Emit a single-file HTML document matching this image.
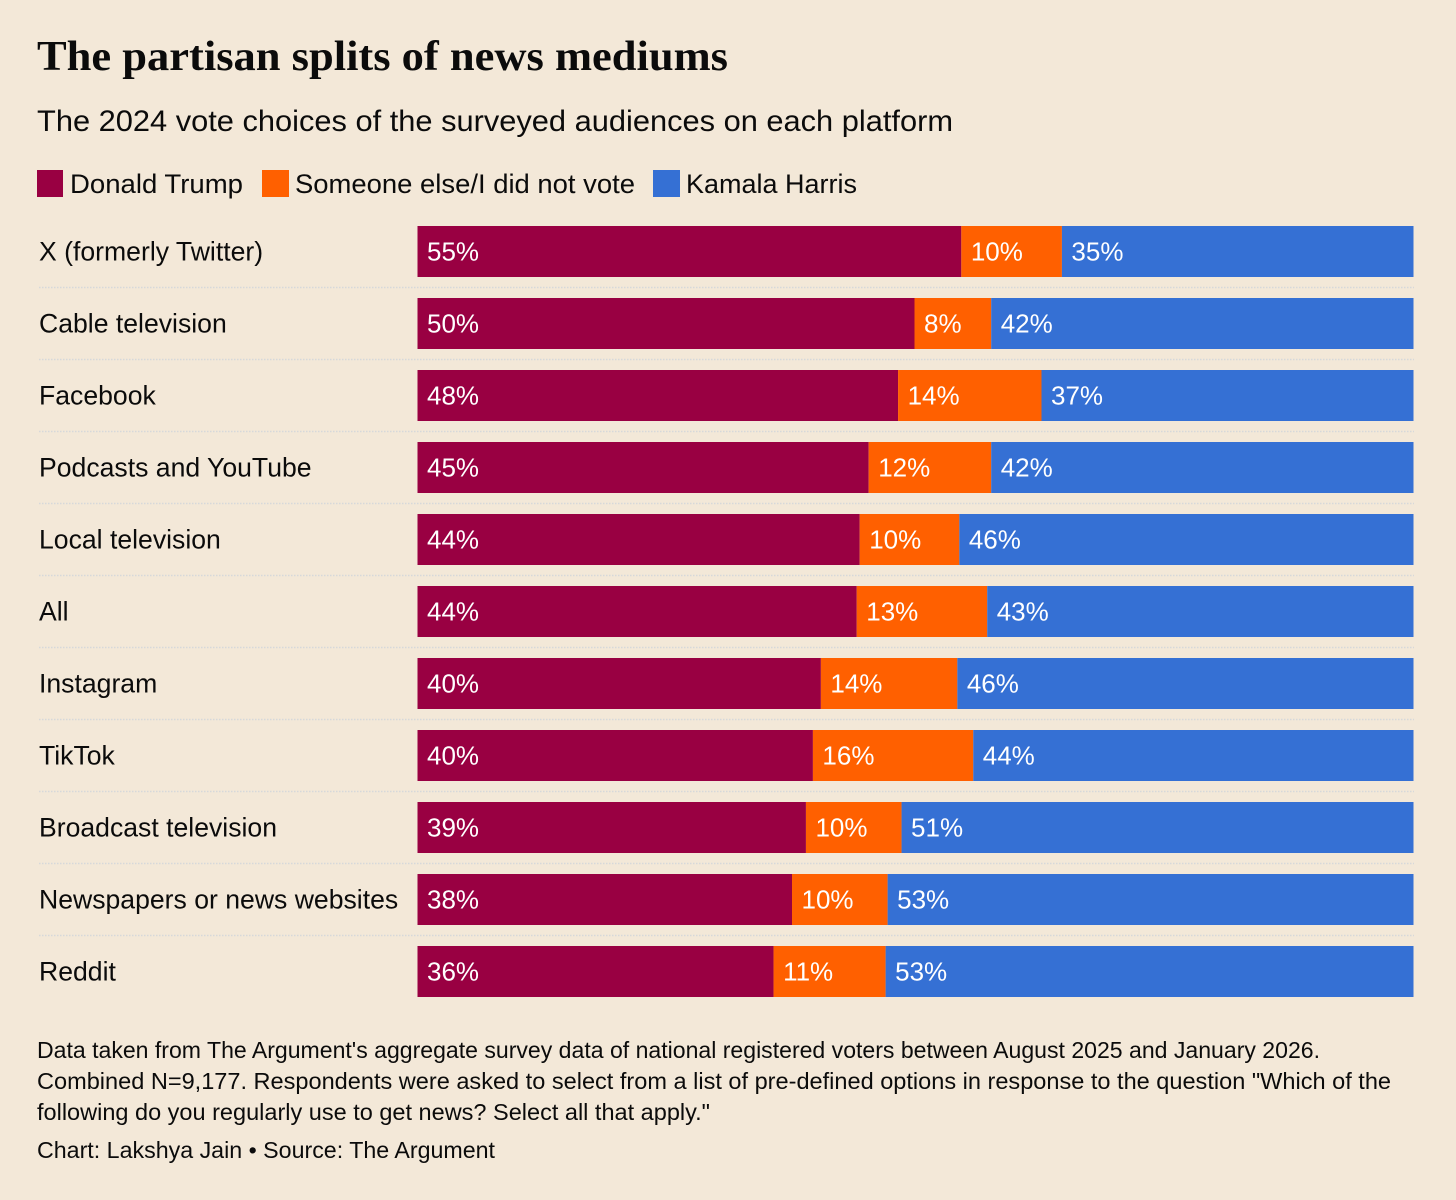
<!DOCTYPE html>
<html lang="en">
<head>
<meta charset="utf-8">
<title>The partisan splits of news mediums</title>
<style>
html,body{margin:0;padding:0;background:#f3e8d8;}
svg{display:block;}
text{font-family:"Liberation Sans",sans-serif;fill:#0b0b0b;}
.title{font-family:"Liberation Serif",serif;font-weight:bold;font-size:42px;}
.sub{font-size:30px;}
.leg{font-size:27px;}
.note{font-size:23px;}
.cat{font-size:26.6px;}
.val{font-size:26px;fill:#fff;}
</style>
</head>
<body>
<svg id="chart" width="1456" height="1200" viewBox="0 0 1456 1200" xmlns="http://www.w3.org/2000/svg">
<rect x="0" y="0" width="1456" height="1200" fill="#f3e8d8"/>
<text class="title" x="37" y="70" textLength="691" lengthAdjust="spacingAndGlyphs">The partisan splits of news mediums</text>
<text class="sub" x="37" y="131" textLength="916" lengthAdjust="spacingAndGlyphs">The 2024 vote choices of the surveyed audiences on each platform</text>
<g>
<rect x="37" y="170" width="26" height="27" fill="#990042"/>
<text class="leg" x="70" y="193" textLength="173" lengthAdjust="spacingAndGlyphs">Donald Trump</text>
<rect x="262" y="170" width="27" height="27" fill="#ff6000"/>
<text class="leg" x="295" y="193" textLength="340" lengthAdjust="spacingAndGlyphs">Someone else/I did not vote</text>
<rect x="653" y="170" width="27" height="27" fill="#3570d4"/>
<text class="leg" x="686" y="193" textLength="171" lengthAdjust="spacingAndGlyphs">Kamala Harris</text>
</g>
<g id="rows"></g>
<g>
<text class="note" x="37" y="1058" textLength="1283" lengthAdjust="spacingAndGlyphs">Data taken from The Argument's aggregate survey data of national registered voters between August 2025 and January 2026.</text>
<text class="note" x="37" y="1089" textLength="1354" lengthAdjust="spacingAndGlyphs">Combined N=9,177. Respondents were asked to select from a list of pre-defined options in response to the question "Which of the</text>
<text class="note" x="37" y="1120" textLength="673" lengthAdjust="spacingAndGlyphs">following do you regularly use to get news? Select all that apply."</text>
<text class="note" x="37" y="1158" textLength="458" lengthAdjust="spacingAndGlyphs">Chart: Lakshya Jain • Source: The Argument</text>
</g>
</svg>
<script>
const categories = ["X (formerly Twitter)", "Cable television", "Facebook", "Podcasts and YouTube", "Local television", "All", "Instagram", "TikTok", "Broadcast television", "Newspapers or news websites", "Reddit"];
const trumpValues = [54.6, 49.9, 48.25, 45.3, 44.4, 44.1, 40.5, 39.7, 39.0, 37.6, 35.75];
const otherValues = [10.1, 7.7, 14.4, 12.3, 10.0, 13.1, 13.7, 16.1, 9.6, 9.6, 11.25];
const harrisValues = [35.3, 42.4, 37.35, 42.4, 45.6, 42.8, 45.8, 44.2, 51.4, 52.8, 53.0];
const trumpLabels = ["55%", "50%", "48%", "45%", "44%", "44%", "40%", "40%", "39%", "38%", "36%"];
const otherLabels = ["10%", "8%", "14%", "12%", "10%", "13%", "14%", "16%", "10%", "10%", "11%"];
const harrisLabels = ["35%", "42%", "37%", "42%", "46%", "43%", "46%", "44%", "51%", "53%", "53%"];

const NS = "http://www.w3.org/2000/svg";
const rowsGroup = document.getElementById("rows");
const plotLeft = 417.5, plotWidth = 996, rowTop = 226, rowStep = 72, barHeight = 51;

function xScale(v) { return plotLeft + v / 100 * plotWidth; }
function yScale(i) { return rowTop + i * rowStep; }

const seriesList = [
  { key: "trump", values: trumpValues, labels: trumpLabels, color: "#990042" },
  { key: "other", values: otherValues, labels: otherLabels, color: "#ff6000" },
  { key: "harris", values: harrisValues, labels: harrisLabels, color: "#3570d4" }
];

categories.forEach(function (cat, i) {
  const y = yScale(i);
  const label = document.createElementNS(NS, "text");
  
  
  label.setAttribute("class", "cat");
  label.setAttribute("x", 39);
  label.setAttribute("y", y + 34.5);
  label.textContent = cat;
  rowsGroup.appendChild(label);

  let cum = 0;
  seriesList.forEach(function (s) {
    const x0 = xScale(cum);
    cum += s.values[i];
    const x1 = xScale(cum);
    const bar = document.createElementNS(NS, "rect");
    
    
    bar.setAttribute("x", x0);
    bar.setAttribute("y", y);
    bar.setAttribute("width", Math.max(0, x1 - x0));
    bar.setAttribute("height", barHeight);
    bar.setAttribute("fill", s.color);
    rowsGroup.appendChild(bar);

    const val = document.createElementNS(NS, "text");
    
    
    val.setAttribute("class", "val");
    val.setAttribute("x", x0 + 9.5);
    val.setAttribute("y", y + 34.5);
    val.textContent = s.labels[i];
    rowsGroup.appendChild(val);
  });

  if (i < categories.length - 1) {
    const rule = document.createElementNS(NS, "line");
    
    
    rule.setAttribute("x1", 39);
    rule.setAttribute("x2", 1414);
    rule.setAttribute("y1", y + 61.5);
    rule.setAttribute("y2", y + 61.5);
    rule.setAttribute("stroke", "#d6d8da");
    rule.setAttribute("stroke-width", 1.5);
    rule.setAttribute("stroke-dasharray", "1.5 1.5");
    rowsGroup.appendChild(rule);
  }
});
</script>
</body>
</html>
